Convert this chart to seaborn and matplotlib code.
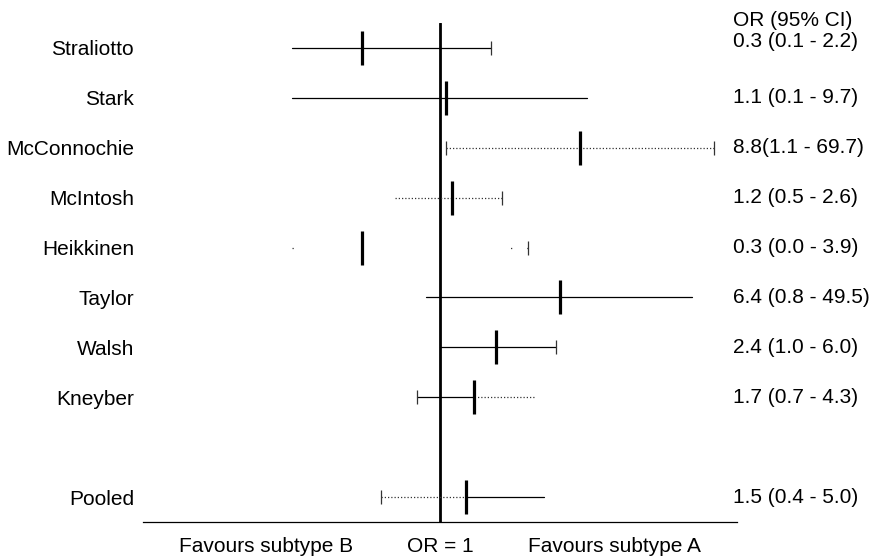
import numpy as np
import pandas as pd
import matplotlib
matplotlib.use("Agg")
import matplotlib.pyplot as plt
from matplotlib.ticker import NullLocator, FixedLocator
import matplotlib.transforms as mtransforms
import seaborn as sns

# Study-level odds ratios with 95% confidence intervals
studies = ["Straliotto", "Stark", "McConnochie", "McIntosh", "Heikkinen",
           "Taylor", "Walsh", "Kneyber", "Pooled"]
odds_ratio = [0.3, 1.1, 8.8, 1.2, 0.3, 6.4, 2.4, 1.7, 1.5]
ci_low = [0.1, 0.1, 1.1, 0.5, 0.0, 0.8, 1.0, 0.7, 0.4]
ci_high = [2.2, 9.7, 69.7, 2.6, 3.9, 49.5, 6.0, 4.3, 5.0]
ci_text = ["0.3 (0.1 - 2.2)", "1.1 (0.1 - 9.7)", "8.8(1.1 - 69.7)",
           "1.2 (0.5 - 2.6)", "0.3 (0.0 - 3.9)", "6.4 (0.8 - 49.5)",
           "2.4 (1.0 - 6.0)", "1.7 (0.7 - 4.3)", "1.5 (0.4 - 5.0)"]
row_pos = [0, 1, 2, 3, 4, 5, 6, 7, 9]
axis_labels = ["Favours subtype B", "OR = 1", "Favours subtype A"]
axis_label_or = [0.067, 1.0, 14.9]

# Drawing styles for the two halves of each interval and its end caps
solid = "-"
dots = (0, (1, 1.6))
faint_l = (0, (1, 400))
faint_r = (0, (1, 12, 1, 400))
left_style = [solid, solid, dots, dots, faint_l, solid, solid, solid, dots]
right_style = [solid, solid, dots, dots, faint_r, solid, solid, dots, solid]
left_cap = [False, False, True, False, False, False, False, True, True]
right_cap = [True, False, True, True, True, False, True, False, False]
PLOT_FLOOR = 0.1  # smallest OR drawn on the log axis

df = pd.DataFrame({"study": studies, "or_": odds_ratio, "lo": ci_low,
                   "hi": ci_high, "row": row_pos, "label": ci_text})

sns.set_theme(style="white")
plt.rcParams["font.family"] = ["Liberation Sans", "DejaVu Sans"]
plt.rcParams["text.color"] = "black"
plt.rcParams["xtick.color"] = "black"
plt.rcParams["ytick.color"] = "black"
FS = 15

fig = plt.figure(figsize=(8.76, 5.56), dpi=100)
ax = fig.add_axes([143 / 876, 34 / 556, 594 / 876, 499 / 556])
ax.set_xscale("log")
ax.set_xlim(0.01, 100)
ax.set_ylim(9.5, -0.5)

# Reference line at OR = 1
ax.axvline(1.0, color="black", lw=2.0, zorder=1)

for i, r in df.iterrows():
    lo = max(r.lo, PLOT_FLOOR)
    ls_l = left_style[i]
    ls_r = right_style[i]
    col_l = "#333333" if ls_l != solid else "black"
    col_r = "#333333" if ls_r != solid else "black"
    # left half runs outward from the interval's lower end
    ax.plot([lo, r.or_], [r.row, r.row], color=col_l, lw=0.9, linestyle=ls_l,
            zorder=2)
    # right half runs inward from the interval's upper end
    ax.plot([r.hi, r.or_], [r.row, r.row], color=col_r, lw=0.9, linestyle=ls_r,
            zorder=2)
    if left_cap[i]:
        ax.plot([lo], [r.row], marker="|", markersize=10, mew=0.9,
                color="#333333", linestyle="none")
    if right_cap[i]:
        ax.plot([r.hi], [r.row], marker="|", markersize=10, mew=0.9,
                color="#333333", linestyle="none")

# Point estimates
sns.scatterplot(data=df, x="or_", y="row", marker="|", s=24 ** 2,
                linewidth=2.3, color="black", ax=ax, zorder=3, legend=False)

# Study names on the left
ax.yaxis.set_major_locator(FixedLocator(row_pos))
ax.set_yticklabels(studies, fontsize=FS, color="black")
ax.tick_params(axis="y", length=0, pad=6.5)

# Direction labels under the axis
ax.xaxis.set_minor_locator(NullLocator())
ax.xaxis.set_major_locator(FixedLocator(axis_label_or))
ax.set_xticklabels(axis_labels, fontsize=FS, color="black")
ax.tick_params(axis="x", length=0, pad=11)
ax.set_xlabel("")
ax.set_ylabel("")

for side in ["top", "right", "left"]:
    ax.spines[side].set_visible(False)
ax.spines["bottom"].set_color("black")
ax.spines["bottom"].set_linewidth(0.9)

# OR (95% CI) column on the right
trans = mtransforms.blended_transform_factory(ax.transAxes, ax.transData)
ax.text(0.993, -0.56, "OR (95% CI)", transform=trans, fontsize=FS,
        ha="left", va="center", clip_on=False, color="black")
for i, r in df.iterrows():
    y = r.row - 0.13 if i == 0 else r.row
    ax.text(0.993, y, r.label, transform=trans, fontsize=FS,
            ha="left", va="center", clip_on=False, color="black")

fig.savefig("out.png", dpi=100, facecolor="white")
